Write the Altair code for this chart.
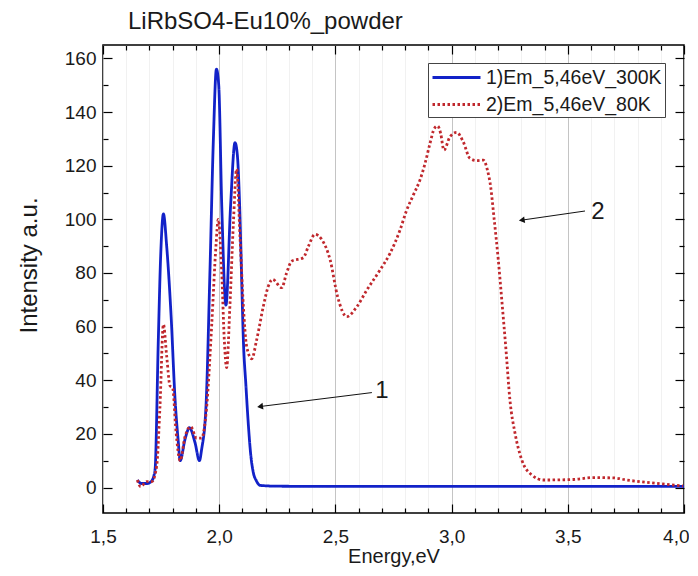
import altair as alt
import pandas as pd

TITLE = "LiRbSO4-Eu10%_powder"
SERIES = ["1)Em_5,46eV_300K", "2)Em_5,46eV_80K"]
COLORS = ["#1222c8", "#c0282d"]
X_TITLE = "Energy,eV"
Y_TITLE = "Intensity a.u."

# Curve 1 (300 K)
energy_300k = [1.648, 1.665, 1.690, 1.710, 1.724, 1.738, 1.748, 1.760, 1.774, 1.793,
               1.810, 1.824, 1.832, 1.853, 1.872, 1.896, 1.915, 1.924, 1.943, 1.960,
               1.975, 1.988, 1.998, 2.011, 2.029, 2.049, 2.068, 2.078, 2.088, 2.096,
               2.104, 2.115, 2.125, 2.136, 2.147, 2.160, 2.176, 2.250, 2.500, 3.000,
               3.500, 4.000]
intensity_300k = [2.8, 1.5, 1.5, 2.5, 6.7, 55, 86, 102, 90, 64,
                  33, 17, 10, 18, 22.3, 16.7, 10, 14, 30, 80,
                  130, 156, 150, 105, 68, 105, 128.6, 124, 105, 80,
                  55, 38, 24, 12, 5.5, 2.5, 0.8, 0.5, 0.4, 0.4,
                  0.4, 0.4]

# Curve 2 (80 K)
energy_80k = [1.648, 1.662, 1.688, 1.710, 1.731, 1.745, 1.760, 1.774, 1.788, 1.800,
              1.814, 1.832, 1.853, 1.877, 1.903, 1.924, 1.946, 1.968, 1.986, 1.996,
              2.011, 2.022, 2.032, 2.046, 2.061, 2.075, 2.090, 2.104, 2.118, 2.140,
              2.161, 2.190, 2.211, 2.230, 2.269, 2.290, 2.312, 2.362, 2.384, 2.412,
              2.441, 2.477, 2.510, 2.549, 2.592, 2.635, 2.692, 2.735, 2.778, 2.807,
              2.835, 2.864, 2.886, 2.907, 2.926, 2.940, 2.953, 2.967, 2.993, 3.022,
              3.050, 3.079, 3.108, 3.136, 3.154, 3.168, 3.182, 3.201, 3.216, 3.234,
              3.251, 3.273, 3.302, 3.345, 3.395, 3.524, 3.610, 3.696, 3.753, 3.811,
              3.900, 3.996]
intensity_80k = [2.8, 0.3, 2.2, 2.2, 8, 30, 60.8, 49, 38, 37,
                 21, 10, 19, 22.7, 18.4, 18.4, 30, 61, 90, 100,
                 80, 55, 44.7, 67.6, 98.5, 118.7, 92.6, 67.6, 52.7, 48,
                 55, 67.6, 75, 77.6, 74.5, 80, 84.4, 85.7, 90, 94.4,
                 92.5, 85, 71, 63.7, 67.4, 73.6, 81.1, 87.3, 96, 103.5,
                 109, 114.7, 120.9, 128.3, 133.9, 134.8, 132, 125.8, 130.8, 132.4,
                 128.9, 122.7, 121.9, 122.1, 118.4, 112.2, 101, 84.8, 69.9, 51.3,
                 32.6, 20.2, 10.3, 4.7, 2.8, 3.0, 3.7, 3.6, 2.8, 2.2,
                 1.4, 0.6]

# Axis tick positions
x_ticks = [1.5, 1.6, 1.7, 1.8, 1.9, 2.0, 2.1, 2.2, 2.3, 2.4, 2.5, 2.6, 2.7,
           2.8, 2.9, 3.0, 3.1, 3.2, 3.3, 3.4, 3.5, 3.6, 3.7, 3.8, 3.9, 4.0]
y_ticks = [0, 10, 20, 30, 40, 50, 60, 70, 80, 90, 100, 110, 120, 130, 140, 150, 160]
x_domain = [1.5, 4.0]
y_domain = [-9.5, 165]

# Annotation arrows: tail (x, y) -> head (x2, y2), and labels
arrow_labels = ["1", "2"]
arrow_x = [2.657, 3.574]
arrow_y = [35.4, 103.1]
arrow_x2 = [2.176, 3.302]
arrow_y2 = [30.2, 99.7]
label_x = [2.700, 3.630]
label_y = [36.0, 102.7]

W, H = 581, 468
FONT = "Liberation Sans"
TXT = "#1a1a1a"

rows = []
for e, i in zip(energy_300k, intensity_300k):
    rows.append({"E": e, "I": i, "series": SERIES[0]})
for e, i in zip(energy_80k, intensity_80k):
    rows.append({"E": e, "I": i, "series": SERIES[1]})
df = pd.DataFrame(rows)

ann = pd.DataFrame({"label": arrow_labels, "x": arrow_x, "y": arrow_y,
                    "x2": arrow_x2, "y2": arrow_y2, "lx": label_x, "ly": label_y})

x_major = "abs(datum.value*2 - round(datum.value*2)) < 0.001"
y_major = "abs(datum.value/20 - round(datum.value/20)) < 0.001"
x_last = "datum.value >= 3.99"

xs = alt.Scale(domain=x_domain, nice=False, zero=False)
ys = alt.Scale(domain=y_domain, nice=False, zero=False)

x_axis_main = alt.Axis(
    orient="top", offset=-H, values=x_ticks, domain=False,
    grid=True,
    gridColor={"condition": {"test": x_major, "value": "#c4c4c4"}, "value": "#f1f1f1"},
    gridWidth=1,
    ticks=True, tickColor="#000", tickWidth=1.2,
    tickSize={"condition": {"test": x_major, "value": 9}, "value": 5},
    labelExpr=f"{x_major} ? replace(format(datum.value, '.1f'), '.', ',') : ''",
    labelAlign={"condition": {"test": x_last, "value": "right"}, "value": "center"},
    labelOffset={"condition": {"test": x_last, "value": 5}, "value": 0},
    labelBaseline="top", labelPadding=-23, labelFlush=False, labelOverlap=False,
    labelFont=FONT, labelFontSize=19, labelColor=TXT,
    title=X_TITLE, titleFont=FONT, titleFontSize=20, titleFontWeight="normal",
    titleColor=TXT, titleX=W / 2, titleY=43, titleBaseline="middle", titleAlign="center",
)
y_axis_main = alt.Axis(
    orient="right", offset=-W, values=y_ticks, domain=False, grid=False,
    ticks=True, tickColor="#000", tickWidth=1.2,
    tickSize={"condition": {"test": y_major, "value": 9}, "value": 5},
    labelExpr=f"{y_major} ? format(datum.value, 'd') : ''",
    labelAlign="right", labelBaseline="middle", labelPadding=-16, labelOverlap=False,
    labelFont=FONT, labelFontSize=19, labelColor=TXT,
    title=Y_TITLE, titleFont=FONT, titleFontSize=24, titleFontWeight="normal",
    titleColor=TXT, titleX=-74, titleY=220, titleAngle=270,
    titleBaseline="middle", titleAlign="center",
)
x_axis_top = alt.Axis(
    orient="bottom", offset=-H, values=x_ticks, domain=False, grid=False,
    labels=False, title=None, ticks=True, tickColor="#000", tickWidth=1.2,
    tickSize={"condition": {"test": x_major, "value": 9}, "value": 5},
)
y_axis_right = alt.Axis(
    orient="left", offset=-W, values=y_ticks, domain=False, grid=False,
    labels=False, title=None, ticks=True, tickColor="#000", tickWidth=1.2,
    tickSize={"condition": {"test": y_major, "value": 9}, "value": 5},
)

lines = alt.Chart(df).mark_line(strokeWidth=2.8, interpolate="monotone").encode(
    x=alt.X("E:Q", scale=xs, axis=x_axis_main),
    y=alt.Y("I:Q", scale=ys, axis=y_axis_main),
    color=alt.Color("series:N", scale=alt.Scale(domain=SERIES, range=COLORS),
                    legend=alt.Legend(title=None, orient="none", legendX=325, legendY=18)),
    strokeDash=alt.StrokeDash("series:N",
                              scale=alt.Scale(domain=SERIES, range=[[1, 0], [2.5, 2.5]]),
                              legend=alt.Legend(title=None, orient="none", legendX=325, legendY=18)),
)

ghost = alt.Chart(df).mark_line(opacity=0).encode(
    x=alt.X("E:Q", scale=xs, axis=x_axis_top),
    y=alt.Y("I:Q", scale=ys, axis=y_axis_right),
)

arrow_lines = alt.Chart(ann).mark_rule(color="#111", strokeWidth=1).encode(
    x=alt.X("x:Q", scale=xs, axis=None), y=alt.Y("y:Q", scale=ys, axis=None),
    x2="x2:Q", y2="y2:Q",
)
arrow_heads = alt.Chart(ann).mark_point(shape="triangle-left", filled=True, color="#111",
                                        size=45, opacity=1).encode(
    x=alt.X("x2:Q", scale=xs, axis=None), y=alt.Y("y2:Q", scale=ys, axis=None),
    angle=alt.value(352),
)
arrow_text = alt.Chart(ann).mark_text(font=FONT, fontSize=24, color=TXT,
                                      align="center", baseline="middle").encode(
    x=alt.X("lx:Q", scale=xs, axis=None), y=alt.Y("ly:Q", scale=ys, axis=None),
    text="label:N",
)

chart = alt.layer(lines, ghost, arrow_lines, arrow_heads, arrow_text).resolve_axis(
    x="independent", y="independent"
).properties(
    width=W, height=H,
    autosize=alt.AutoSizeParams(type="none"),
    padding={"left": 95, "top": 37, "right": 5, "bottom": 54},
    title=alt.TitleParams(TITLE, anchor="start", frame="group", dx=25, offset=10,
                          font=FONT, fontSize=24, fontWeight="normal", color=TXT),
).configure_view(
    stroke="#000", strokeWidth=1.5
).configure_legend(
    strokeColor="#444", fillColor="white", padding=3, cornerRadius=0,
    symbolType="M-1,0H3.8", symbolSize=400, symbolStrokeWidth=3,
    labelFont=FONT, labelFontSize=19.5, labelColor=TXT, labelOffset=32,
    rowPadding=6, labelLimit=400,
)

chart.save("out.html", embed_options={"renderer": "svg", "actions": False})
